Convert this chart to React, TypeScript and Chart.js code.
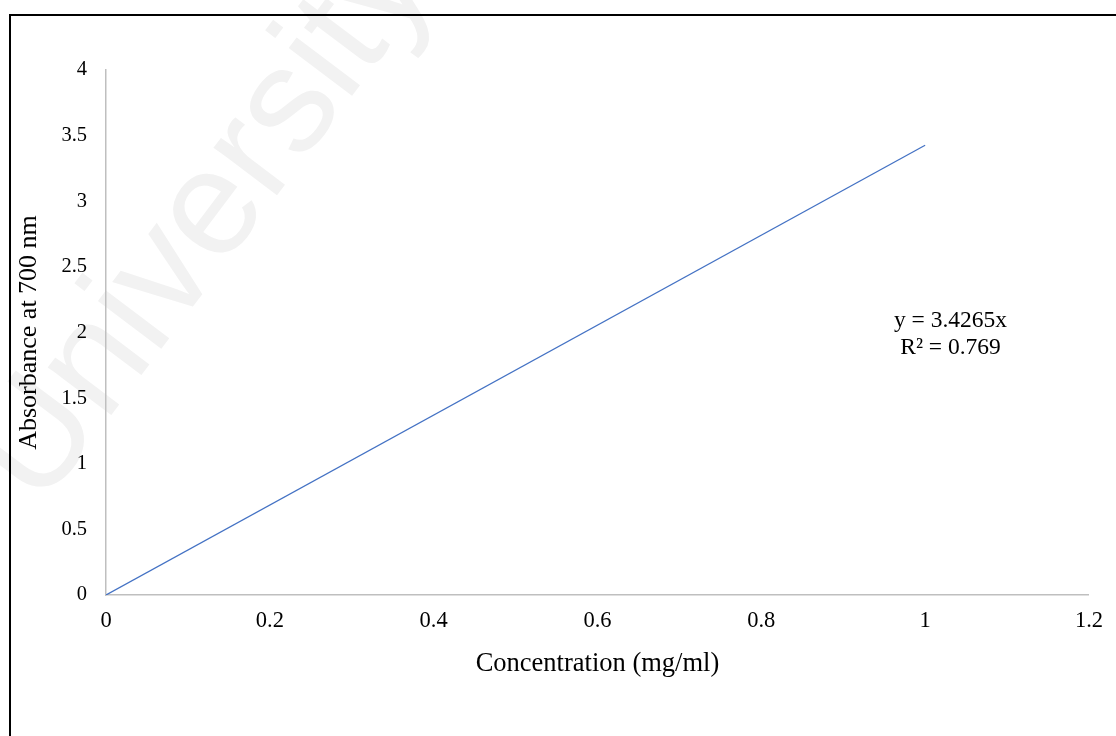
import React, { useEffect, useRef } from "react";
import { Chart, registerables } from "chart.js";

Chart.register(...registerables);

// ---- data ----
const concentration = [0, 1];
const absorbance = [0, 3.4265];
const xTickLabels = ["0", "0.2", "0.4", "0.6", "0.8", "1", "1.2"];
const yTickLabels = ["0", "0.5", "1", "1.5", "2", "2.5", "3", "3.5", "4"];
const equationLines = ["y = 3.4265x", "R² = 0.769"];
const xTitle = "Concentration (mg/ml)";
const yTitle = "Absorbance at 700 nm";
const watermarkText = "University";

const W = 1116;
const H = 736;
const SERIF = "'Liberation Serif', 'Times New Roman', serif";

const framePlugin = {
  id: "frame",
  beforeDraw(chart: any) {
    const ctx = chart.ctx;
    ctx.save();
    ctx.translate(205, 222);
    ctx.rotate((-53 * Math.PI) / 180);
    ctx.font = "150px 'Liberation Sans', 'Noto Sans', sans-serif";
    ctx.fillStyle = "#f2f2f2";
    ctx.textAlign = "center";
    ctx.textBaseline = "middle";
    ctx.fillText(watermarkText, 0, 0);
    ctx.restore();
  },
  afterDraw(chart: any) {
    const ctx = chart.ctx;
    const xs = chart.scales.x;
    const ys = chart.scales.y;
    // trendline equation label
    ctx.save();
    ctx.font = `23.5px ${SERIF}`;
    ctx.fillStyle = "#000";
    ctx.textAlign = "center";
    ctx.textBaseline = "alphabetic";
    const cx = xs.getPixelForValue(1.031);
    const by = ys.getPixelForValue(2.042);
    equationLines.forEach((t, i) => ctx.fillText(t, cx, by + i * 27));
    ctx.restore();
    // outer frame (top and left edges visible)
    ctx.save();
    ctx.strokeStyle = "#000";
    ctx.lineWidth = 2;
    ctx.beginPath();
    ctx.moveTo(10, H);
    ctx.lineTo(10, 15);
    ctx.lineTo(W, 15);
    ctx.stroke();
    ctx.restore();
  },
};

export default function App() {
  const ref = useRef<HTMLCanvasElement | null>(null);

  useEffect(() => {
    if (!ref.current) return;
    const chart = new Chart(ref.current, {
      type: "scatter",
      data: {
        datasets: [
          {
            label: "Absorbance",
            data: concentration.map((x, i) => ({ x, y: absorbance[i] })),
            showLine: true,
            borderColor: "#4472C4",
            borderWidth: 1.3,
            pointRadius: 0,
            fill: false,
          },
        ],
      },
      options: {
        animation: false,
        responsive: false,
        devicePixelRatio: 1,
        layout: { padding: { left: 0, top: 70, right: 27, bottom: 0 } },
        plugins: {
          legend: { display: false },
          tooltip: { enabled: false },
        },
        scales: {
          x: {
            type: "linear",
            min: 0,
            max: 1.2,
            afterBuildTicks: (s: any) => {
              s.ticks = xTickLabels.map((v) => ({ value: parseFloat(v) }));
            },
            afterFit: (s: any) => {
              s.height = 141;
            },
            grid: { display: false, drawTicks: false },
            border: { display: true, color: "#bfbfbf", width: 1.5 },
            ticks: {
              padding: 13,
              color: "#000",
              font: { family: SERIF, size: 22.5 },
              maxRotation: 0,
              callback: (_v: any, i: number) => xTickLabels[i],
            },
            title: {
              display: true,
              text: xTitle,
              color: "#000",
              font: { family: SERIF, size: 26.5 },
              padding: { top: 0, bottom: 56 },
            },
          },
          y: {
            type: "linear",
            min: 0,
            max: 4,
            afterBuildTicks: (s: any) => {
              s.ticks = yTickLabels.map((v) => ({ value: parseFloat(v) }));
            },
            afterFit: (s: any) => {
              s.width = 106;
            },
            grid: { display: false, drawTicks: false },
            border: { display: true, color: "#bfbfbf", width: 1.5 },
            ticks: {
              padding: 19,
              color: "#000",
              font: { family: SERIF, size: 20.5 },
              callback: (_v: any, i: number) => yTickLabels[i],
            },
            title: {
              display: true,
              text: yTitle,
              color: "#000",
              font: { family: SERIF, size: 26 },
              padding: { top: 14, bottom: 0 },
            },
          },
        },
      },
      plugins: [framePlugin],
    } as any);
    return () => chart.destroy();
  }, []);

  return (
    <div style={{ position: "fixed", left: 0, top: 0, width: W, height: H, background: "#fff" }}>
      <canvas ref={ref} width={W} height={H} style={{ width: W, height: H, display: "block" }} />
    </div>
  );
}
